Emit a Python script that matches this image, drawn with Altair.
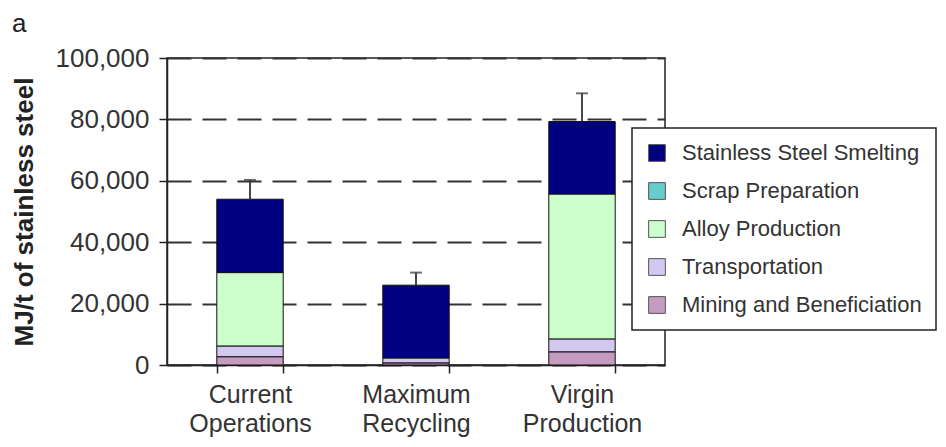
import altair as alt
import pandas as pd

categories = ["Current Operations", "Maximum Recycling", "Virgin Production"]
components = ["Stainless Steel Smelting", "Scrap Preparation", "Alloy Production",
              "Transportation", "Mining and Beneficiation"]
colors = ["#000080", "#66cccc", "#ccffcc", "#d3c9f0", "#c49cc0"]

mining = [2700, 700, 4300]
transport = [3500, 1600, 4200]
scrap = [0, 0, 0]
alloy = [23900, 0, 47200]
smelting = [23900, 23700, 23600]
upper = [60300, 30100, 88500]

series = {
    "Mining and Beneficiation": mining,
    "Transportation": transport,
    "Scrap Preparation": scrap,
    "Alloy Production": alloy,
    "Stainless Steel Smelting": smelting,
}
stack_order = list(series.keys())

rows = []
for comp, vals in series.items():
    for cat, v in zip(categories, vals):
        if v > 0:
            rows.append({"cat": cat, "comp": comp, "val": v, "ord": stack_order.index(comp)})
df = pd.DataFrame(rows)

totals = [sum(series[c][i] for c in series) for i in range(len(categories))]
err = pd.DataFrame({"cat": categories, "total": totals, "upper": upper})

FONT = "Liberation Sans"

x_enc = alt.X("cat:N", sort=categories,
              scale=alt.Scale(paddingInner=0.6, paddingOuter=0.3),
              axis=alt.Axis(title=None, labelAngle=0, labelExpr="split(datum.label, ' ')",
                            tickBand="extent", tickSize=8, tickColor="#222", tickWidth=1.5,
                            domainColor="#222", domainWidth=1.5,
                            labelFontSize=25, labelColor="#333", labelFont=FONT,
                            labelPadding=9, labelLineHeight=29))

bars = alt.Chart(df).mark_bar(stroke="#111", strokeWidth=1).encode(
    x=x_enc,
    y=alt.Y("sum(val):Q", stack="zero",
            scale=alt.Scale(domain=[0, 100000], nice=False),
            axis=alt.Axis(title="MJ/t of stainless steel", values=[0, 20000, 40000, 60000, 80000, 100000],
                          format=",.0f", tickSize=8, tickColor="#222", tickWidth=1.5,
                          domainColor="#222", domainWidth=1.5,
                          labelFontSize=26, labelColor="#333", labelFont=FONT, labelPadding=10,
                          titleFontSize=26, titleFont=FONT, titleFontWeight="bold", titleColor="#222",
                          titlePadding=18,
                          grid=True, gridDash=[24, 11], gridColor="#333", gridWidth=1.8)),
    color=alt.Color("comp:N", scale=alt.Scale(domain=components, range=colors),
                    legend=alt.Legend(title=None, orient="none", legendX=465, legendY=70,
                                      fillColor="white", strokeColor="#222",
                                      padding=14, symbolType="square", symbolSize=280,
                                      symbolStrokeColor="#555", symbolStrokeWidth=1,
                                      labelFontSize=22, labelFont=FONT, labelColor="#333",
                                      labelOffset=14, rowPadding=16, labelLimit=400)),
    order=alt.Order("ord:Q"),
)

rule = alt.Chart(err).mark_rule(color="#333", strokeWidth=1.8).encode(
    x=alt.X("cat:N", sort=categories), y="total:Q", y2="upper:Q")
cap = alt.Chart(err).mark_tick(color="#333", thickness=2, size=12, orient="horizontal").encode(
    x=alt.X("cat:N", sort=categories), y="upper:Q")

label_a = alt.Chart(pd.DataFrame({"t": ["a"]})).mark_text(
    font=FONT, fontSize=26, color="#222", align="left", baseline="alphabetic").encode(
    text="t:N", x=alt.value(-155), y=alt.value(-26))

chart = alt.layer(bars, rule, cap, label_a).properties(
    width=498, height=307,
    autosize=alt.AutoSizeParams(type="none"),
    padding={"left": 159, "top": 50, "right": 272, "bottom": 73},
).configure_view(stroke="#222", strokeWidth=1.5).configure_legend(strokeWidth=1.5)

chart.save("out.html", embed_options={"renderer": "svg", "actions": False})
